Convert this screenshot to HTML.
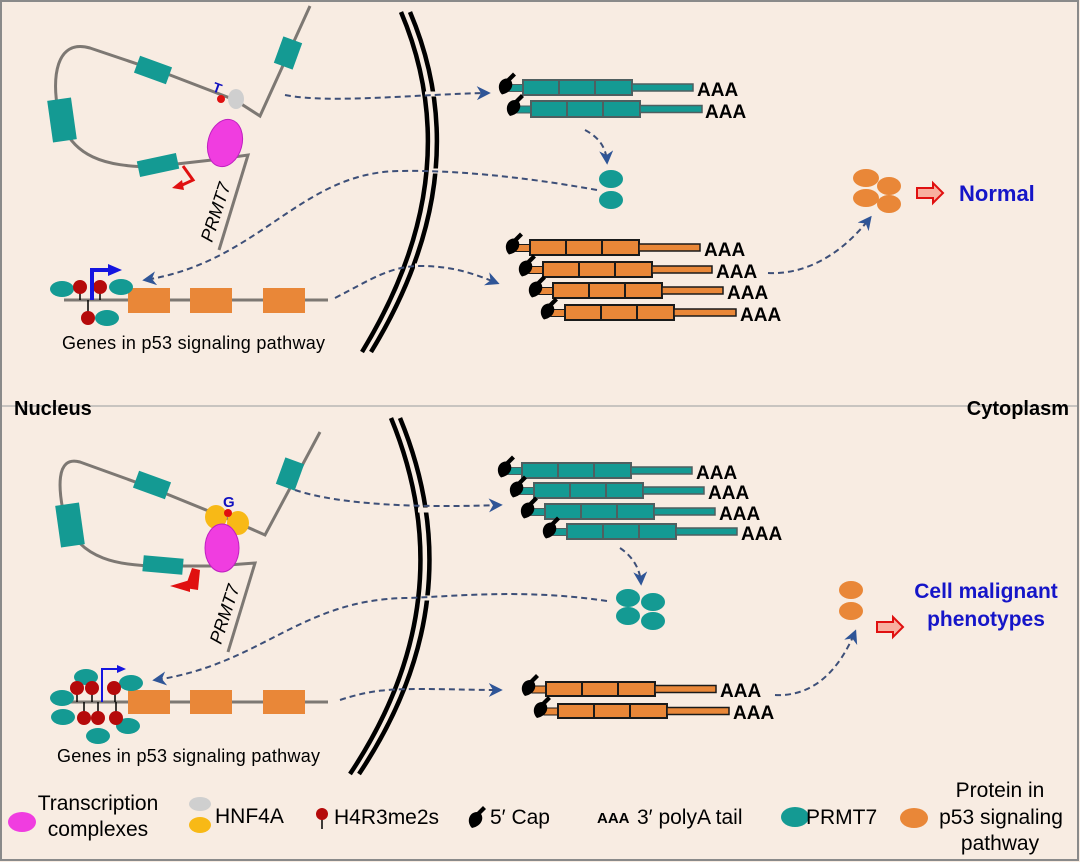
<!DOCTYPE html>
<html><head><meta charset="utf-8">
<style>
html,body{margin:0;padding:0;background:#f8ece2;}
svg{display:block;}
text{font-family:"Liberation Sans",Arial,sans-serif;}
</style></head>
<body>
<svg id="s" width="1080" height="862" viewBox="0 0 1080 862" xmlns="http://www.w3.org/2000/svg">
<defs>
<marker id="ah" viewBox="0 0 10 10" refX="8" refY="5" markerWidth="7" markerHeight="7" orient="auto">
<path d="M0,0 L10,5 L0,10 L3,5 Z" fill="#2f5597"/>
</marker>
</defs>
<rect x="1" y="1" width="1077" height="859" fill="#f8ece2" stroke="#8a8a8a" stroke-width="2"/>
<line x1="2" y1="406" x2="1077" y2="406" stroke="#c8c4c0" stroke-width="2"/>
<text x="14" y="415" font-size="20" font-weight="bold">Nucleus</text>
<text x="1069" y="415" font-size="20" font-weight="bold" text-anchor="end">Cytoplasm</text>

<!-- membranes -->
<g fill="none" stroke="#000" stroke-width="4.5">
<path d="M401,12 Q470,175 362,352"/>
<path d="M410,12 Q479,175 371,352"/>
<path d="M391,418 Q466,600 350,774"/>
<path d="M400,418 Q475,600 359,774"/>
</g>
<g stroke="#f8ece2" stroke-width="5">
<line x1="425" y1="94" x2="446" y2="94"/>
<line x1="430" y1="171" x2="455" y2="171"/>
<line x1="415" y1="266" x2="437" y2="266"/>
<line x1="418" y1="510" x2="442" y2="510"/>
<line x1="422" y1="598" x2="448" y2="598"/>
<line x1="410" y1="690" x2="432" y2="690"/>
</g>

<g id="dyn"></g>

<g fill="none" stroke="#3d4f78" stroke-width="2" stroke-dasharray="6,4" marker-end="url(#ah)">
<path d="M285,95 C330,104 420,94 488,93"/>
<path d="M597,190 C520,176 450,170 400,171 C300,172 260,262 145,280"/>
<path d="M335,298 C370,280 390,266 420,266 C450,266 470,272 497,283"/>
<path d="M585,130 C600,138 606,148 607,162"/>
<path d="M768,273 C810,275 845,250 870,218"/>
<path d="M295,490 C340,505 420,508 500,505"/>
<path d="M607,601 C520,588 450,597 405,598 C300,600 260,665 155,680"/>
<path d="M340,700 C370,690 390,689 420,689 C450,689 470,690 500,690"/>
<path d="M620,548 C632,556 640,568 641,583"/>
<path d="M775,695 C815,697 840,668 855,632"/>
</g>

<g fill="none" stroke="#7d7873" stroke-width="3">
<path d="M310,6 L260,116 L235,100 L170,75 L90,48 C55,38 52,80 58,110 C68,160 110,166 150,167 L212,160 L248,155 L219,250"/>
<path d="M64,300 L328,300"/>
<path d="M320,432 L265,535 L238,523 L152,488 L80,462 C55,455 58,490 65,520 C80,560 120,566 160,566 L215,566 L255,563 L228,652"/>
<path d="M55,702 L328,702"/>
</g>
<g fill="#149a93">
<rect x="-14" y="-10" width="28" height="20" transform="translate(288,53) rotate(-70)"/>
<rect x="-17" y="-9" width="34" height="18" transform="translate(153,70) rotate(20)"/>
<rect x="-12" y="-21" width="24" height="42" transform="translate(62,120) rotate(-8)"/>
<rect x="-20" y="-8" width="40" height="16" transform="translate(158,165) rotate(-12)"/>
<rect x="-14" y="-10" width="28" height="20" transform="translate(290,474) rotate(-70)"/>
<rect x="-17" y="-9" width="34" height="18" transform="translate(152,485) rotate(20)"/>
<rect x="-12" y="-21" width="24" height="42" transform="translate(70,525) rotate(-8)"/>
<rect x="-20" y="-8" width="40" height="16" transform="translate(163,565) rotate(5)"/>
</g>
<ellipse cx="236" cy="99" rx="8" ry="10" fill="#cfcfcf"/>
<circle cx="221" cy="99" r="4" fill="#e01010"/>
<text x="213" y="93" font-size="14" font-weight="bold" fill="#1010c0" transform="rotate(20 218 88)">T</text>
<ellipse cx="225" cy="143" rx="17" ry="24" fill="#f03de0" stroke="#c020c0" transform="rotate(15 225 143)"/>
<path d="M183,166 L193,180 L180,186" fill="none" stroke="#e01010" stroke-width="3"/>
<path d="M182,180 L172,188 L184,190 Z" fill="#e01010"/>
<text x="0" y="0" font-size="18" font-style="italic" transform="translate(212,243) rotate(-72)">PRMT7</text>

<ellipse cx="216" cy="517" rx="11" ry="12" fill="#f8b916"/>
<ellipse cx="238" cy="523" rx="11" ry="12" fill="#f8b916"/>
<circle cx="228" cy="513" r="4" fill="#e01010"/>
<text x="223" y="507" font-size="15" font-weight="bold" fill="#1010c0">G</text>
<ellipse cx="222" cy="548" rx="17" ry="24" fill="#f03de0" stroke="#c020c0"/>
<path d="M192,568 L200,570 L198,590 L185,588" fill="#e01010"/>
<path d="M190,580 L170,586 L190,592 Z" fill="#e01010"/>
<text x="0" y="0" font-size="18" font-style="italic" transform="translate(221,645) rotate(-72)">PRMT7</text>

<g fill="#e98738">
<rect x="128" y="288" width="42" height="25"/><rect x="190" y="288" width="42" height="25"/><rect x="263" y="288" width="42" height="25"/>
<rect x="128" y="690" width="42" height="24"/><rect x="190" y="690" width="42" height="24"/><rect x="263" y="690" width="42" height="24"/>
</g>
<g fill="#149a93">
<ellipse cx="62" cy="289" rx="12" ry="8"/><ellipse cx="121" cy="287" rx="12" ry="8"/><ellipse cx="107" cy="318" rx="12" ry="8"/>
<ellipse cx="86" cy="677" rx="12" ry="8"/><ellipse cx="62" cy="698" rx="12" ry="8"/><ellipse cx="131" cy="683" rx="12" ry="8"/>
<ellipse cx="63" cy="717" rx="12" ry="8"/><ellipse cx="98" cy="736" rx="12" ry="8"/><ellipse cx="128" cy="726" rx="12" ry="8"/>
</g>
<g stroke="#000" stroke-width="1.5">
<line x1="80" y1="290" x2="80" y2="300"/><line x1="100" y1="290" x2="100" y2="300"/><line x1="88" y1="300" x2="88" y2="315"/>
<line x1="77" y1="688" x2="77" y2="702"/><line x1="92" y1="688" x2="92" y2="702"/><line x1="115" y1="688" x2="115" y2="702"/>
<line x1="84" y1="702" x2="84" y2="716"/><line x1="98" y1="702" x2="98" y2="716"/><line x1="116" y1="702" x2="116" y2="716"/>
</g>
<g fill="#b50a0a">
<circle cx="80" cy="287" r="7"/><circle cx="100" cy="287" r="7"/><circle cx="88" cy="318" r="7"/>
<circle cx="77" cy="688" r="7"/><circle cx="92" cy="688" r="7"/><circle cx="114" cy="688" r="7"/>
<circle cx="84" cy="718" r="7"/><circle cx="98" cy="718" r="7"/><circle cx="116" cy="718" r="7"/>
</g>
<path d="M92,300 L92,270 L110,270" fill="none" stroke="#1515e0" stroke-width="4"/>
<path d="M108,264 L122,270 L108,276 Z" fill="#1515e0"/>
<path d="M102,702 L102,669 L118,669" fill="none" stroke="#1515e0" stroke-width="2"/>
<path d="M117,665 L126,669 L117,673 Z" fill="#1515e0"/>
<text x="62" y="349" font-size="18" textLength="263">Genes in p53 signaling pathway</text>
<text x="57" y="762" font-size="18" textLength="263">Genes in p53 signaling pathway</text>

<g fill="#149a93">
<ellipse cx="611" cy="179" rx="12" ry="9"/><ellipse cx="611" cy="200" rx="12" ry="9"/>
<ellipse cx="628" cy="598" rx="12" ry="9"/><ellipse cx="653" cy="602" rx="12" ry="9"/>
<ellipse cx="628" cy="616" rx="12" ry="9"/><ellipse cx="653" cy="621" rx="12" ry="9"/>
</g>
<g fill="#e98738">
<ellipse cx="866" cy="178" rx="13" ry="9"/><ellipse cx="889" cy="186" rx="12" ry="9"/>
<ellipse cx="866" cy="198" rx="13" ry="9"/><ellipse cx="889" cy="204" rx="12" ry="9"/>
<ellipse cx="851" cy="590" rx="12" ry="9"/><ellipse cx="851" cy="611" rx="12" ry="9"/>
</g>
<path d="M917,188 L933,188 L933,183 L943,193 L933,203 L933,198 L917,198 Z" fill="#f8b0a0" stroke="#e01010" stroke-width="2"/>
<path d="M877,622 L893,622 L893,617 L903,627 L893,637 L893,632 L877,632 Z" fill="#f8b0a0" stroke="#e01010" stroke-width="2"/>
<text x="959" y="201" font-size="22" font-weight="bold" fill="#1515c8">Normal</text>
<text x="986" y="598" font-size="21" font-weight="bold" fill="#1515c8" text-anchor="middle">Cell malignant</text>
<text x="986" y="626" font-size="21" font-weight="bold" fill="#1515c8" text-anchor="middle">phenotypes</text>

<ellipse cx="22" cy="822" rx="14" ry="10" fill="#f03de0"/>
<text x="98" y="810" font-size="21" text-anchor="middle">Transcription</text>
<text x="98" y="836" font-size="21" text-anchor="middle">complexes</text>
<ellipse cx="200" cy="804" rx="11" ry="7" fill="#cfcfcf"/>
<ellipse cx="200" cy="825" rx="11" ry="8" fill="#f8b916"/>
<text x="215" y="823" font-size="21">HNF4A</text>
<line x1="322" y1="815" x2="322" y2="829" stroke="#000" stroke-width="1.5"/>
<circle cx="322" cy="814" r="6" fill="#b50a0a"/>
<text x="334" y="824" font-size="21">H4R3me2s</text>
<g id="lcap"></g>
<text x="490" y="824" font-size="21">5′ Cap</text>
<text x="597" y="823" font-size="15" font-weight="bold">AAA</text>
<text x="637" y="824" font-size="21">3′ polyA tail</text>
<ellipse cx="795" cy="817" rx="14" ry="10" fill="#149a93"/>
<text x="806" y="824" font-size="21">PRMT7</text>
<ellipse cx="914" cy="818" rx="14" ry="10" fill="#e98738"/>
<text x="1000" y="797" font-size="21" text-anchor="middle">Protein in</text>
<text x="1001" y="824" font-size="21" text-anchor="middle">p53 signaling</text>
<text x="1000" y="850" font-size="21" text-anchor="middle">pathway</text>
</svg>
<script>
var NS="http://www.w3.org/2000/svg",g=document.getElementById("dyn");
function el(t,a,p){var e=document.createElementNS(NS,t);for(var k in a)e.setAttribute(k,a[k]);(p||g).appendChild(e);return e;}
function cap(x,y,p){
  el("path",{d:"M"+(x-6)+","+(y+8)+" C"+(x-12)+","+(y+2)+" "+(x-9)+","+(y-8)+" "+(x-1)+","+(y-8)+" L"+(x+5)+","+(y-14)+" L"+(x+8)+","+(y-11)+" L"+(x+3)+","+(y-6)+" C"+(x+6)+","+(y-2)+" "+(x+4)+","+(y+6)+" "+(x-6)+","+(y+8)+" Z",fill:"#000"},p);
}
function mrna(x,y,h,col,stroke,tail,aaaX){
  var w=109;
  el("rect",{x:x-14,y:y+h/2-3,width:14,height:7,fill:col,stroke:stroke,"stroke-width":1});
  cap(x-15,y+h/2-1);
  el("rect",{x:x,y:y,width:w,height:h,fill:col,stroke:stroke,"stroke-width":2});
  el("line",{x1:x+36,y1:y,x2:x+36,y2:y+h,stroke:stroke,"stroke-width":2});
  el("line",{x1:x+72,y1:y,x2:x+72,y2:y+h,stroke:stroke,"stroke-width":2});
  el("rect",{x:x+w,y:y+h/2-3.5,width:tail-(x+w),height:7,fill:col,stroke:stroke,"stroke-width":1.5});
  var t=el("text",{x:aaaX,y:y+h+1,"font-size":19,"font-weight":"bold"});t.textContent="AAA";
}
var T="#149a93",TS="#4f5f60",O="#e98738",OS="#1a1a1a";
mrna(523,80,15,T,TS,693,697);mrna(531,101,16,T,TS,702,705);
mrna(530,240,15,O,OS,700,704);mrna(543,262,15,O,OS,712,716);mrna(553,283,15,O,OS,723,727);mrna(565,305,15,O,OS,736,740);
mrna(522,463,15,T,TS,692,696);mrna(534,483,15,T,TS,704,708);mrna(545,504,15,T,TS,715,719);mrna(567,524,15,T,TS,737,741);
mrna(546,682,14,O,OS,716,720);mrna(558,704,14,O,OS,729,733);
cap(478,820,document.getElementById("lcap"));
</script>
</body></html>
